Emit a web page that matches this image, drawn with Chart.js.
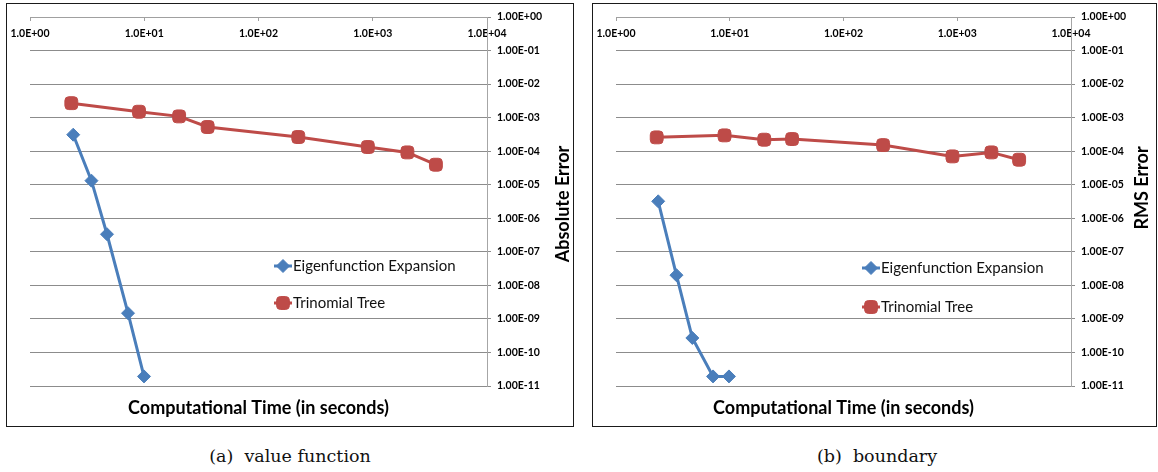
<!DOCTYPE html>
<html lang="en">
<head>
<meta charset="UTF-8">
<title>Eigenfunction Expansion vs Trinomial Tree</title>
<script src="https://cdn.jsdelivr.net/npm/chart.js"></script>
<style>
  body { margin: 0; background: #fff; width: 1158px; height: 472px; position: relative; overflow: hidden; }
  .panel { position: absolute; top: 3px; height: 422px; border: 1px solid #1a1a1a; }
  #panelA { left: 6px; width: 566px; }
  #panelB { left: 592px; width: 563px; }
  .panel canvas { display: block; }
  .caption { position: absolute; top: 446px; font-family: "DejaVu Serif", serif; font-size: 17.5px; line-height: 20px; color: #111; white-space: pre; transform: translateX(-50%); }
</style>
</head>
<body>
<div class="panel" id="panelA"><canvas id="chartA" width="566" height="422"></canvas></div>
<div class="panel" id="panelB"><canvas id="chartB" width="563" height="422"></canvas></div>
<div class="caption" style="left:290px">(a)  value function</div>
<div class="caption" style="left:877px">(b)  boundary</div>
<script>
// axis ticks
const xTickValues = [1, 10, 100, 1000, 10000];
const xTickLabels = ['1.0E+00', '1.0E+01', '1.0E+02', '1.0E+03', '1.0E+04'];
const yTickValues = [1e-11, 1e-10, 1e-9, 1e-8, 1e-7, 1e-6, 1e-5, 1e-4, 1e-3, 1e-2, 1e-1, 1];
const yTickLabels = ['1.00E-11', '1.00E-10', '1.00E-09', '1.00E-08', '1.00E-07', '1.00E-06',
                     '1.00E-05', '1.00E-04', '1.00E-03', '1.00E-02', '1.00E-01', '1.00E+00'];

// (a) value function
const eigenTimeA = [2.39, 3.45, 4.72, 7.21, 9.95];
const eigenErrA  = [3.1e-4, 1.32e-5, 3.34e-7, 1.48e-9, 1.93e-11];
const treeTimeA  = [2.3, 9.0, 20.2, 35.9, 223, 906, 2010, 3570];
const treeErrA   = [2.7e-3, 1.5e-3, 1.09e-3, 5.25e-4, 2.64e-4, 1.33e-4, 9.2e-5, 3.95e-5];

// (b) boundary
const eigenTimeB = [2.35, 3.40, 4.69, 7.13, 9.84];
const eigenErrB  = [3.2e-6, 2.01e-8, 2.7e-10, 1.93e-11, 1.93e-11];
const treeTimeB  = [2.28, 9.0, 20.1, 35.3, 223, 907, 1995, 3500];
const treeErrB   = [2.58e-4, 2.96e-4, 2.2e-4, 2.3e-4, 1.52e-4, 7.0e-5, 9.2e-5, 5.57e-5];

const seriesNames = ['Eigenfunction Expansion', 'Trinomial Tree'];
const BLUE = '#4a7ebb';
const RED = '#be4b48';
const FONT = 'Lato, "Open Sans", sans-serif';

const toPoints = (xs, ys) => xs.map((x, i) => ({ x: x, y: ys[i] }));

// y title on the right, read from bottom to top (Chart.js would rotate it the other way)
const sideTitle = {
  id: 'sideTitle',
  afterDraw(chart, args, opts) {
    const ctx = chart.ctx;
    ctx.save();
    ctx.translate(opts.x, opts.y);
    ctx.rotate(-Math.PI / 2);
    ctx.font = 'bold 18px ' + FONT;
    ctx.fillStyle = '#000';
    ctx.textAlign = 'center';
    ctx.textBaseline = 'middle';
    ctx.fillText(opts.text, 0, 0);
    ctx.restore();
  }
};

// legend sitting inside the plot, excel style
const insideLegend = {
  id: 'insideLegend',
  afterDatasetsDraw(chart, args, opts) {
    const ctx = chart.ctx;
    chart.data.datasets.forEach((ds, i) => {
      const x = opts.x, y = opts.y + i * opts.gap;
      ctx.save();
      ctx.strokeStyle = ds.borderColor;
      ctx.lineWidth = 3;
      ctx.beginPath();
      ctx.moveTo(x - 9, y);
      ctx.lineTo(x + 9, y);
      ctx.stroke();
      ctx.fillStyle = ds.backgroundColor;
      ctx.lineWidth = 1;
      Chart.helpers.drawPoint(ctx, { pointStyle: ds.pointStyle, radius: ds.pointRadius, borderWidth: 1, rotation: 0 }, x, y);
      ctx.font = '15px ' + FONT;
      ctx.fillStyle = '#111';
      ctx.textAlign = 'left';
      ctx.textBaseline = 'middle';
      ctx.fillText(ds.label, x + 10, y);
      ctx.restore();
    });
  }
};

function makeChart(id, eigen, tree, cfg) {
  return new Chart(document.getElementById(id), {
    type: 'scatter',
    data: {
      datasets: [
        { label: seriesNames[0], data: eigen, borderColor: BLUE, backgroundColor: BLUE,
          borderWidth: 3, pointStyle: 'rectRot', pointRadius: 6.5, pointBorderWidth: 1, showLine: true },
        { label: seriesNames[1], data: tree, borderColor: RED, backgroundColor: RED,
          borderWidth: 3, pointStyle: 'rectRounded', pointRadius: 7.5, pointBorderWidth: 1, showLine: true }
      ]
    },
    options: {
      responsive: false,
      animation: false,
      events: [],
      layout: { padding: { left: 23, right: 0, top: 0, bottom: 0 } },
      scales: {
        x: {
          type: 'logarithmic', position: 'top', min: 1, max: 10000,
          afterBuildTicks: s => { s.ticks = xTickValues.map(v => ({ value: v })); },
          afterFit: s => { s.height = 13; s.paddingLeft = 0; s.paddingRight = 0; },
          // mirror puts the labels under the axis line, inside the plot, like the original
          ticks: { autoSkip: false, maxRotation: 0, mirror: true, padding: 10, color: '#000',
                   font: { family: FONT, weight: 'bold', size: 10.5 },
                   callback: (v, i) => xTickLabels[i] },
          grid: { drawOnChartArea: false, drawTicks: true, tickLength: -4, color: '#a0a0a0' },
          border: { display: true, color: '#a0a0a0' }
        },
        y: {
          type: 'logarithmic', position: 'right', min: 1e-11, max: 1,
          afterBuildTicks: s => { s.ticks = yTickValues.map(v => ({ value: v })); },
          afterFit: s => { s.width = cfg.axisWidth; },
          ticks: { autoSkip: false, padding: 6, color: '#000',
                   font: { family: FONT, weight: 'bold', size: 10.5 },
                   callback: (v, i) => yTickLabels[i] },
          grid: { color: '#8c8c8c', tickLength: 4 },
          border: { display: true, color: '#a6a6a6' }
        }
      },
      plugins: {
        legend: { display: false },
        tooltip: { enabled: false },
        title: { display: true, position: 'bottom', fullSize: false, text: 'Computational Time (in seconds)',
                 color: '#000', font: { family: FONT, weight: 'bold', size: 18 }, padding: { top: 11, bottom: 7.4 } },
        sideTitle: cfg.yTitle,
        insideLegend: cfg.legend
      }
    },
    plugins: [sideTitle, insideLegend]
  });
}

makeChart('chartA', toPoints(eigenTimeA, eigenErrA), toPoints(treeTimeA, treeErrA), {
  axisWidth: 86,
  yTitle: { text: 'Absolute Error', x: 556, y: 200 },
  legend: { x: 276, y: 262, gap: 37 }
});

makeChart('chartB', toPoints(eigenTimeB, eigenErrB), toPoints(treeTimeB, treeErrB), {
  axisWidth: 85,
  yTitle: { text: 'RMS Error', x: 549, y: 184 },
  legend: { x: 278, y: 264, gap: 39 }
});
</script>
</body>
</html>
